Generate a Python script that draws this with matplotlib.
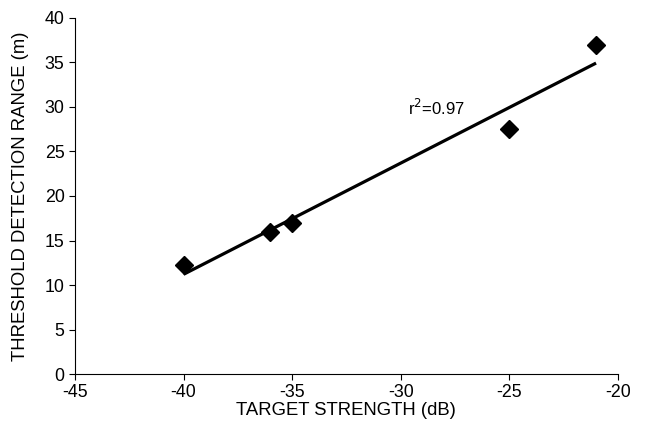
import numpy as np
import matplotlib
matplotlib.use("Agg")
import matplotlib.pyplot as plt

plt.rcParams['font.family'] = ['Liberation Sans', 'DejaVu Sans']
plt.rcParams['axes.unicode_minus'] = False

# Target strength (dB) vs threshold detection range (m)
target_strength = [-40, -36, -35, -25, -21]
detection_range = [12.2, 16.0, 17.0, 27.5, 37.0]
x_ticks = [-45, -40, -35, -30, -25, -20]
y_ticks = [0, 5, 10, 15, 20, 25, 30, 35, 40]

fig = plt.figure(figsize=(6.5, 4.36), dpi=100)
ax = fig.add_axes([0.1154, 0.142, 0.835, 0.817])

x = np.array(target_strength, dtype=float)
y = np.array(detection_range, dtype=float)
slope, intercept = np.polyfit(x, y, 1)
xf = np.array([x.min(), x.max()])
ax.plot(xf, slope * xf + intercept, color='black', lw=2.3, solid_capstyle='butt')
ax.plot(x, y, linestyle='none', marker='D', markersize=9, color='black')

ax.text(-29.65, 29.1, r'r$^{2}$=0.97', fontsize=12)

ax.set_xlim(-45, -20)
ax.set_ylim(0, 40)
ax.set_xticks(x_ticks)
ax.set_yticks(y_ticks)
ax.tick_params(axis='both', labelsize=12.8, direction='out', length=4, width=0.8)
ax.tick_params(axis='x', pad=3)
ax.spines['top'].set_visible(False)
ax.spines['right'].set_visible(False)
ax.set_xlabel('TARGET STRENGTH (dB)', fontsize=13.3, labelpad=1)
ax.set_ylabel('THRESHOLD DETECTION RANGE (m)', fontsize=13.3, labelpad=11)

fig.savefig('out.png', dpi=100)
